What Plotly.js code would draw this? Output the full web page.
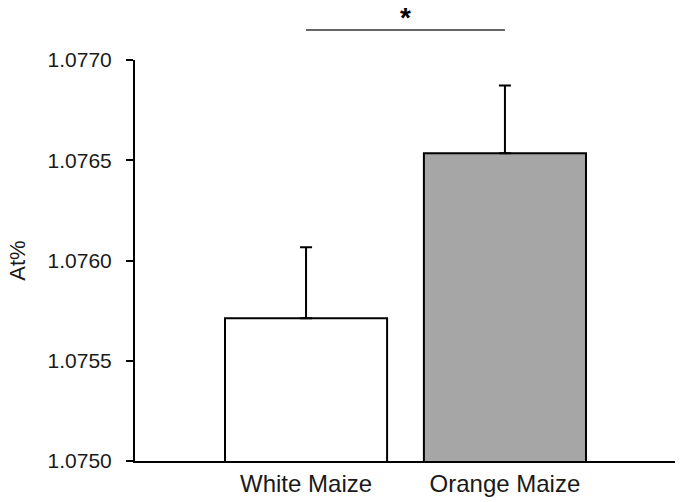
<!DOCTYPE html>
<html>
<head>
<meta charset="utf-8">
<script src="https://cdn.plot.ly/plotly-3.0.1.min.js"></script>
<style>html,body{margin:0;padding:0;background:#fff;}#chart{width:680px;height:502px;}</style>
</head>
<body>
<div id="chart"></div>
<script>
const categories = ["White Maize", "Orange Maize"];
const means = [1.075712, 1.076535];
const errors = [0.000354, 0.000338];
const barColors = ["#ffffff", "#a6a6a6"];
const yTickVals = [1.0750, 1.0755, 1.0760, 1.0765, 1.0770];
const yTickText = ["1.0750", "1.0755", "1.0760", "1.0765", "1.0770"];
const sigLabel = "*";

const trace = {
  type: "bar",
  x: categories,
  y: means,
  base: 0,
  width: 0.815,
  marker: { color: barColors, line: { color: "#000000", width: 2 } },
  error_y: { type: "data", symmetric: false, array: errors, arrayminus: [0, 0], color: "#000000", thickness: 2, width: 6 },
  hoverinfo: "none"
};

const layout = {
  width: 680, height: 502,
  margin: { l: 135, r: 5, t: 59.5, b: 40.5, pad: 0 },
  paper_bgcolor: "#ffffff", plot_bgcolor: "#ffffff",
  font: { family: "Liberation Sans, Arial, sans-serif", color: "#000000" },
  showlegend: false,
  xaxis: {
    type: "category",
    range: [-0.86, 1.855],
    showline: true, linecolor: "#000000", linewidth: 2,
    ticks: "", showgrid: false, zeroline: false,
    tickfont: { size: 24, color: "#1a1a1a" }
  },
  yaxis: {
    range: [1.0750, 1.0770],
    tickvals: yTickVals, ticktext: yTickText,
    showline: true, linecolor: "#000000", linewidth: 2,
    ticks: "outside", ticklen: 7, tickwidth: 2, tickcolor: "#000000",
    ticklabelstandoff: 10,
    showgrid: false, zeroline: false,
    tickfont: { size: 21, color: "#1a1a1a" },
    title: { text: "At%", font: { size: 22, color: "#1a1a1a" }, standoff: 16 }
  },
  shapes: [{
    type: "line", xref: "x", yref: "paper",
    x0: categories[0], x1: categories[1], y0: 1.075, y1: 1.075,
    line: { color: "#333333", width: 1.5 }
  }],
  annotations: [{
    xref: "paper", yref: "paper", x: (0.5 + 0.86) / 2.715, y: 1.105,
    text: "<b>" + sigLabel + "</b>", showarrow: false, font: { size: 28, color: "#000000" },
    xanchor: "center", yanchor: "middle"
  }]
};

Plotly.newPlot("chart", [trace], layout, { staticPlot: true, displayModeBar: false });
</script>
</body>
</html>
